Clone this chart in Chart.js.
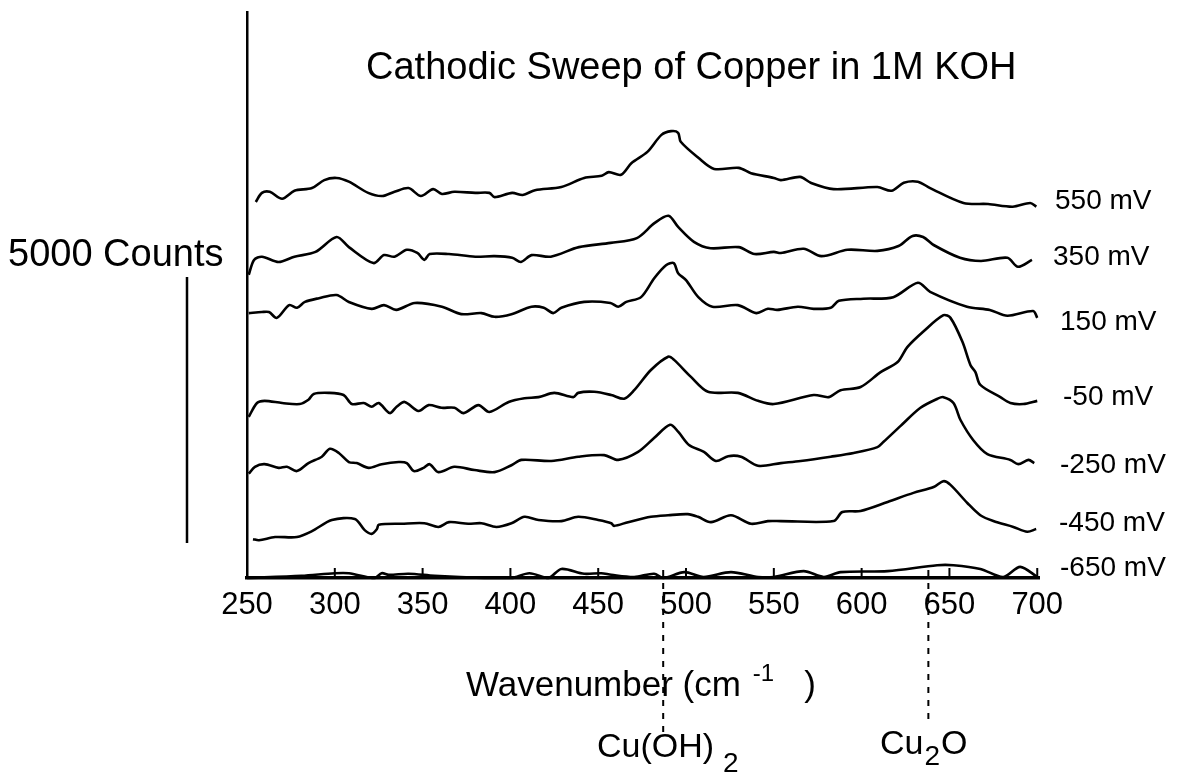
<!DOCTYPE html>
<html lang="en">
<head>
<meta charset="UTF-8">
<title>Cathodic Sweep of Copper in 1M KOH</title>
<script src="https://cdn.jsdelivr.net/npm/chart.js"></script>
<style>
  html, body { margin: 0; padding: 0; background: #ffffff; }
  #chart-container { width: 1195px; height: 777px; position: relative; }
</style>
</head>
<body>

<div id="chart-container">
  <canvas id="myChart"></canvas>
</div>

<script>
// wavenumber (cm-1) and stacked counts, one pair per potential
const wn550 = [255,258.5,263,270,277,287,294,301,308,319,327,334,342,349,356,361,368,380,388,391,401,407,414,429,442,452,456,463,469,478,486,491.5,495.5,497,507,516,530,537,550,554,565,571,584,609,617,624,632,639,658,672,686,696,699.5];
const cnt550 = [7070,7240,7260,7130,7280,7330,7480,7520,7450,7240,7180,7260,7330,7180,7310,7220,7260,7240,7240,7160,7240,7200,7290,7350,7520,7560,7630,7580,7800,8010,8330,8400,8370,8200,7900,7690,7710,7610,7520,7480,7540,7430,7310,7350,7280,7430,7450,7330,7050,7030,6980,7050,6980];

const wn350 = [251,254,258.5,268,277,289,301,308,322,328,334,341,347,351,354,365,380,391,401,406,412,423,439,457,472,482,490,495.5,504.5,514,530,539,550,554,567,577,592,609,621,629,635,641,656,668,683,689,697];
const cnt350 = [5700,5980,6040,5940,6040,6130,6410,6220,5920,6070,6040,6170,6110,5980,6090,6090,6040,6050,6020,5940,6070,6040,6220,6300,6390,6670,6810,6600,6320,6200,6220,6090,6130,6110,6190,6050,6170,6150,6240,6430,6410,6260,6020,5960,6020,5850,5980];

const wn150 = [251,258.5,262.5,267,274,278.5,283,291,301,308,321,328,335,345.5,361,372,383.5,391,400.6,412,419,424.4,429,442,457,461.4,466,474.4,482,488.6,493,495.5,500,507,515,529.5,540,546.6,552,563.6,572.7,582.4,587,601,618,632,639,660,673,683,697.7,700];
const cnt150 = [4980,5000,5000,4890,5130,5080,5190,5260,5320,5190,5060,5130,5040,5170,5100,4960,4980,4910,4960,5100,5080,4980,5080,5190,5170,5100,5190,5280,5640,5880,5920,5730,5600,5280,5100,5130,4980,5060,5040,5100,5060,5080,5210,5250,5280,5550,5380,5100,5040,4930,5020,4890];

const wnM50 = [251,255.7,260,270,280,285,288,296.6,305,309.7,316.5,321,325,331.3,335.2,339.8,347.7,353.4,360.8,368.2,373.3,381.8,388,399,408,416,425,435.8,438.6,447.7,457.4,464.8,470.5,480,489.8,493.2,502.8,512.5,529.5,541,550,572.7,581.3,588,599.4,610.8,620.5,626,635,646.6,650.6,657.4,662,664.8,667.6,679,684.7,692,700];
const cntM50 = [3030,3290,3330,3290,3270,3350,3460,3480,3440,3270,3290,3220,3290,3100,3220,3310,3140,3250,3200,3200,3100,3250,3120,3310,3380,3400,3480,3400,3480,3500,3440,3370,3530,3910,4160,4100,3780,3500,3480,3330,3270,3440,3400,3530,3590,3870,4060,4340,4630,4940,4890,4440,4000,3870,3630,3400,3290,3270,3330];

const wnM250 = [251,254.5,260,268,272.7,278.4,285,292.6,297.2,302.3,308,312.5,319.3,326.7,336.4,341,345,350.6,354,359,368,379.5,391,400.6,406.3,423.3,438.6,453.4,461.4,472.7,481.8,490.9,495.5,501.7,510.2,517,524,531.3,541,554,565.3,582.4,595.5,609,612.5,622.2,633.5,643.2,646.6,652.3,656.3,663.6,671.6,684.7,689.2,695,698.3];
const cntM250 = [1960,2090,2140,2070,2090,2010,2160,2280,2430,2350,2180,2160,2070,2140,2180,2160,2010,2070,2140,1990,2090,2030,1990,2120,2220,2200,2280,2310,2220,2370,2630,2880,2750,2500,2370,2200,2290,2280,2110,2160,2200,2280,2350,2460,2560,2860,3200,3370,3400,3290,2970,2590,2330,2220,2140,2220,2160];

const wnM450 = [253.4,256.8,266,278.4,287,298.3,311.4,317,321,324,325,338,351,359,365,376,383.5,392,400.6,408,416,429,438.6,450,457.4,459,467,480,489.8,501,506.8,514.2,525.6,537,546.6,554,584,589,599.4,614.8,629.5,641,646.6,650.6,660.2,667.6,675,686.4,694.3,699.4];
const cntM450 = [730,710,770,770,880,1090,1110,900,830,920,1000,1020,1030,960,1050,1020,1030,960,1030,1150,1090,1070,1150,1090,1030,980,1050,1150,1180,1200,1150,1050,1180,1020,1070,1070,1070,1240,1260,1430,1600,1710,1820,1750,1410,1180,1070,960,870,920];

const wnM650 = [250,281,300,308,322.7,326.7,330.7,342,356.8,385,400.6,410.8,421.6,429,442,451.7,457.4,470.5,481.8,487,499,510,525.6,541,550,567,578.4,588,614.8,643,652.3,667.6,680.7,690.3,700];
const cntM650 = [0,40,90,90,0,90,60,80,40,0,0,90,0,170,80,90,60,20,80,0,110,20,110,20,20,130,20,110,130,240,240,170,20,210,20];

const potentials = ['550 mV', '350 mV', '150 mV', '-50 mV', '-250 mV', '-450 mV', '-650 mV'];
const xTicks = [250, 300, 350, 400, 450, 500, 550, 600, 650, 700];
const peakMarks = [487, 638];          // Cu(OH)2 and Cu2O bands
const scaleBarCounts = 5000;
const scaleBarBase = 660;

const wns = [wn550, wn350, wn150, wnM50, wnM250, wnM450, wnM650];
const cnts = [cnt550, cnt350, cnt150, cntM50, cntM250, cntM450, cntM650];

const FONT = "'Liberation Sans', Arial, Helvetica, sans-serif";
// where the potential labels sit (px), beside the right end of each trace
const labelPos = [[1055, 201], [1053, 257], [1060, 322], [1063, 397], [1060, 465], [1059, 523], [1060, 568]];

const datasets = potentials.map((name, i) => ({
  label: name,
  data: wns[i].map((w, j) => ({ x: w, y: cnts[i][j] })),
  borderColor: '#000000',
  borderWidth: 2.6,
  pointRadius: 0,
  tension: 0.3,
  fill: false,
  clip: false
}));

function txt(ctx, s, x, y, size, align) {
  ctx.font = size + 'px ' + FONT;
  ctx.textAlign = align || 'left';
  ctx.fillText(s, x, y);
  return ctx.measureText(s).width;
}

const decor = {
  id: 'decor',
  afterDraw(chart) {
    const ctx = chart.ctx;
    const xs = chart.scales.x, ys = chart.scales.y;
    const base = ys.getPixelForValue(0);
    ctx.save();
    ctx.strokeStyle = '#000';
    ctx.fillStyle = '#000';

    // inward tick marks
    ctx.lineWidth = 2;
    xTicks.slice(1).forEach(v => {
      const px = xs.getPixelForValue(v);
      ctx.beginPath(); ctx.moveTo(px, base); ctx.lineTo(px, base - 10); ctx.stroke();
    });

    // dotted band markers running down to the compound names
    ctx.setLineDash([6, 7]);
    ctx.lineWidth = 2;
    peakMarks.forEach((v, i) => {
      const px = xs.getPixelForValue(v);
      ctx.beginPath(); ctx.moveTo(px, base - 8); ctx.lineTo(px, base + (i === 0 ? 156 : 148)); ctx.stroke();
    });
    ctx.setLineDash([]);

    // 5000 counts scale bar
    ctx.lineWidth = 2.5;
    const sx = chart.chartArea.left - 60;
    ctx.beginPath();
    ctx.moveTo(sx, ys.getPixelForValue(scaleBarBase));
    ctx.lineTo(sx, ys.getPixelForValue(scaleBarBase + scaleBarCounts));
    ctx.stroke();

    ctx.textBaseline = 'middle';
    txt(ctx, 'Cathodic Sweep of Copper in 1M KOH', 366, 69, 38);
    txt(ctx, '5000 Counts', 8, 256, 38);

    potentials.forEach((p, i) => txt(ctx, p, labelPos[i][0], labelPos[i][1], 28));

    // axis title with superscript
    let x = 466;
    x += txt(ctx, 'Wavenumber (cm', x, 686, 35) + 12;
    x += txt(ctx, '-1', x, 674, 24) + 30;
    txt(ctx, ')', x, 686, 35);

    // compound labels with subscripts
    x = 597;
    x += txt(ctx, 'Cu(OH)', x, 748, 34) + 9;
    txt(ctx, '2', x, 764, 28);
    x = 880;
    x += txt(ctx, 'Cu', x, 745, 34) + 1;
    x += txt(ctx, '2', x, 757, 28) + 1;
    txt(ctx, 'O', x, 745, 34);

    ctx.restore();
  }
};

const ctx = document.getElementById('myChart').getContext('2d');
new Chart(ctx, {
  type: 'line',
  data: { datasets: datasets },
  options: {
    responsive: true,
    maintainAspectRatio: false,
    animation: false,
    layout: { padding: { left: 247, right: 156, top: 12, bottom: 139 } },
    plugins: { legend: { display: false }, tooltip: { enabled: false }, title: { display: false } },
    scales: {
      x: {
        type: 'linear',
        min: 250,
        max: 701,
        afterBuildTicks: s => { s.ticks = xTicks.map(v => ({ value: v })); },
        afterFit: s => { s.height = 60; },
        grid: { display: false, drawTicks: false },
        border: { display: true, color: '#000', width: 3.5 },
        ticks: { color: '#000', font: { family: FONT, size: 31 }, padding: 9, maxRotation: 0, autoSkip: false }
      },
      y: {
        type: 'linear',
        min: 0,
        max: 10640,
        afterFit: s => { s.width = 0; },
        grid: { display: false, drawTicks: false },
        border: { display: true, color: '#000', width: 2.5 },
        ticks: { display: false }
      }
    }
  },
  plugins: [decor]
});
</script>

</body>
</html>
